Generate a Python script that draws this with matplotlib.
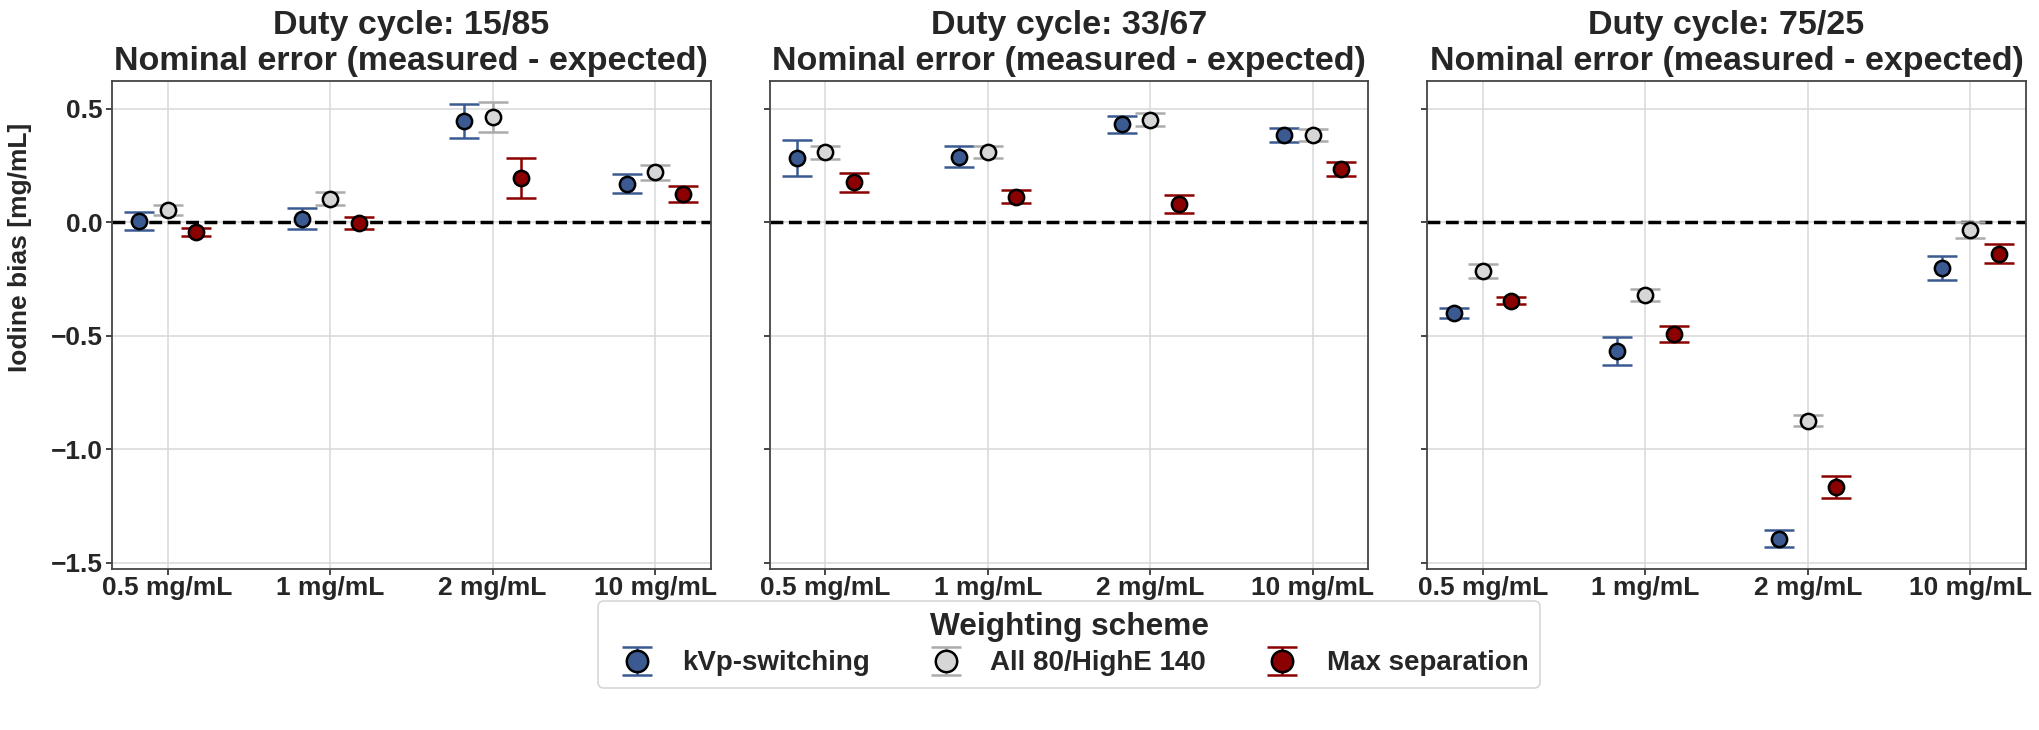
import matplotlib
matplotlib.use("Agg")
import matplotlib.pyplot as plt
import numpy as np

# ---------------- data ----------------
categories = ["0.5 mg/mL", "1 mg/mL", "2 mg/mL", "10 mg/mL"]
duty_cycles = ["15/85", "33/67", "75/25"]
schemes = ["kVp-switching", "All 80/HighE 140", "Max separation"]

# mean bias per duty cycle (rows = duty cycle, cols = category)
kvp_mean = [[0.005, 0.017, 0.445, 0.171],
            [0.285, 0.289, 0.432, 0.385],
            [-0.400, -0.566, -1.393, -0.199]]
kvp_err = [[0.039, 0.045, 0.075, 0.042],
           [0.079, 0.046, 0.036, 0.032],
           [0.023, 0.060, 0.036, 0.053]]

all80_mean = [[0.054, 0.105, 0.466, 0.222],
              [0.309, 0.309, 0.453, 0.384],
              [-0.213, -0.320, -0.873, -0.033]]
all80_err = [[0.022, 0.027, 0.066, 0.033],
             [0.029, 0.027, 0.028, 0.026],
             [0.032, 0.026, 0.026, 0.037]]

maxsep_mean = [[-0.043, -0.003, 0.197, 0.126],
               [0.177, 0.114, 0.080, 0.236],
               [-0.344, -0.492, -1.164, -0.137]]
maxsep_err = [[0.018, 0.027, 0.089, 0.036],
              [0.043, 0.030, 0.039, 0.030],
              [0.016, 0.036, 0.049, 0.041]]

means = [kvp_mean, all80_mean, maxsep_mean]
errs = [kvp_err, all80_err, maxsep_err]

fill_colors = ["#3b5a92", "#d6d6d6", "#8b0000"]
err_colors = ["#3b5a92", "#ababab", "#8b0000"]

# ---------------- style ----------------
TXT = "#262626"
plt.rcParams.update({
    "font.family": ["Liberation Sans", "DejaVu Sans"],
    "font.weight": "bold",
    "text.color": TXT,
    "axes.labelcolor": TXT,
    "xtick.color": TXT,
    "ytick.color": TXT,
    "axes.edgecolor": "#444444",
    "axes.linewidth": 1.3,
    "xtick.major.size": 4,
    "ytick.major.size": 4,
    "xtick.major.pad": 0.8,
    "ytick.major.pad": 2.5,
    "xtick.major.width": 1.2,
    "ytick.major.width": 1.2,
    "axes.titleweight": "bold",
    "axes.labelweight": "bold",
})

fig, axes = plt.subplots(1, 3, figsize=(20.4, 7.3), dpi=100, sharey=True)
fig.subplots_adjust(left=0.0549, right=0.9931, top=0.889, bottom=0.2205,
                    wspace=0.0985)

x = np.arange(len(categories))
offsets = [-0.175, 0.0, 0.175]
handles = []
for p, ax in enumerate(axes):
    ax.grid(True, color="#d9d9d9", linewidth=1.1, zorder=0)
    ax.set_axisbelow(True)
    ax.axhline(0, color="black", linestyle="--", linewidth=2.5, zorder=1.5)
    for j in range(3):
        h = ax.errorbar(x + offsets[j], means[j][p], yerr=errs[j][p],
                        fmt="o", ms=11, mfc=fill_colors[j], mec="black",
                        mew=1.8, ecolor=err_colors[j], elinewidth=1.8,
                        capsize=10.5, capthick=1.8, zorder=3,
                        label=schemes[j])
        if p == 0:
            handles.append(h)
    ax.set_xticks(x)
    ax.set_xticklabels(categories, fontsize=19, fontweight="bold")
    ax.tick_params(axis="y", labelsize=19)
    for lab in ax.get_yticklabels():
        lab.set_fontweight("bold")
    ax.set_xlim(-0.3425, 3.3425)
    ax.set_ylim(-1.527, 0.623)
    ax.set_yticks([-1.5, -1.0, -0.5, 0.0, 0.5])
    ax.set_title(f"Duty cycle: {duty_cycles[p]}\nNominal error (measured - expected)",
                 fontsize=24.5, fontweight="bold", pad=8)

axes[0].set_ylabel("Iodine bias [mg/mL]", fontsize=19, fontweight="bold")
axes[0].yaxis.set_label_coords(-0.133, 0.66)

leg = fig.legend(handles, schemes, title="Weighting scheme",
                 loc="upper center", bbox_to_anchor=(1069 / 2040, 1 - 601 / 730),
                 borderaxespad=0.0, ncol=3, frameon=True, columnspacing=1.75,
                 handletextpad=0.6,
                 markerscale=1.4, borderpad=0.4, labelspacing=0.3,
                 prop={"size": 20, "weight": "bold"},
                 title_fontproperties={"size": 22.8, "weight": "bold"})
leg.get_frame().set_edgecolor("#cccccc")
leg.get_frame().set_linewidth(1.2)

fig.savefig("out.png", dpi=100)
